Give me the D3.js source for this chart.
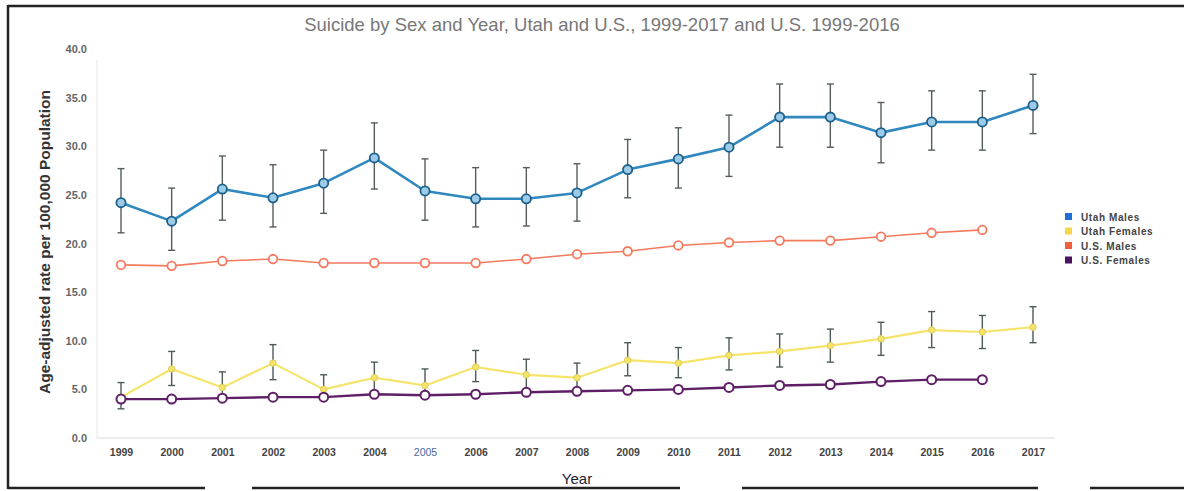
<!DOCTYPE html>
<html>
<head>
<meta charset="utf-8">
<script src="https://cdn.jsdelivr.net/npm/d3@7"></script>
<style>
  html, body { margin: 0; padding: 0; background: #fff; }
  svg { display: block; font-family: "Liberation Sans", Arial, sans-serif; }
</style>
</head>
<body>
<svg id="chart" width="1184" height="491"></svg>
<script>
// Years on the x axis
const years = [1999, 2000, 2001, 2002, 2003, 2004, 2005, 2006, 2007, 2008,
               2009, 2010, 2011, 2012, 2013, 2014, 2015, 2016, 2017];

// Age-adjusted suicide rates per 100,000
const utahMales      = [24.2, 22.3, 25.6, 24.7, 26.2, 28.8, 25.4, 24.6, 24.6, 25.2, 27.6, 28.7, 29.9, 33.0, 33.0, 31.4, 32.5, 32.5, 34.2];
const utahMalesLow   = [21.1, 19.3, 22.4, 21.7, 23.1, 25.6, 22.4, 21.7, 21.8, 22.3, 24.7, 25.7, 26.9, 29.9, 29.9, 28.3, 29.6, 29.6, 31.3];
const utahMalesHigh  = [27.7, 25.7, 29.0, 28.1, 29.6, 32.4, 28.7, 27.8, 27.8, 28.2, 30.7, 31.9, 33.2, 36.4, 36.4, 34.5, 35.7, 35.7, 37.4];

const utahFemales     = [4.2, 7.1, 5.2, 7.7, 5.0, 6.2, 5.4, 7.3, 6.5, 6.2, 8.0, 7.7, 8.5, 8.9, 9.5, 10.2, 11.1, 10.9, 11.4];
const utahFemalesLow  = [3.0, 5.4, 4.0, 6.0, 4.0, 4.6, 4.2, 5.8, 4.9, 4.7, 6.4, 6.2, 7.0, 7.3, 7.8, 8.5, 9.3, 9.2, 9.8];
const utahFemalesHigh = [5.7, 8.9, 6.8, 9.6, 6.5, 7.8, 7.1, 9.0, 8.1, 7.7, 9.8, 9.3, 10.3, 10.7, 11.2, 11.9, 13.0, 12.6, 13.5];

const usMales   = [17.8, 17.7, 18.2, 18.4, 18.0, 18.0, 18.0, 18.0, 18.4, 18.9, 19.2, 19.8, 20.1, 20.3, 20.3, 20.7, 21.1, 21.4];
const usFemales = [4.0, 4.0, 4.1, 4.2, 4.2, 4.5, 4.4, 4.5, 4.7, 4.8, 4.9, 5.0, 5.2, 5.4, 5.5, 5.8, 6.0, 6.0];

const yTicks = [0, 5, 10, 15, 20, 25, 30, 35, 40];
const legendLabels = ["Utah Males", "Utah Females", "U.S. Males", "U.S. Females"];
const legendColors = ["#1f6fd0", "#f7d84a", "#f0603c", "#4b1260"];

const svg = d3.select("#chart");

// Scanned page frame
const frame = svg.append("g").attr("stroke", "#222").attr("stroke-width", 2.5);
frame.append("line").attr("x1", 8).attr("y1", 5).attr("x2", 8).attr("y2", 489);
frame.append("line").attr("x1", 8).attr("y1", 6).attr("x2", 1184).attr("y2", 6);
frame.append("line").attr("x1", 8).attr("y1", 488).attr("x2", 205).attr("y2", 488);
frame.append("line").attr("x1", 252).attr("y1", 488).attr("x2", 680).attr("y2", 488);
frame.append("line").attr("x1", 742).attr("y1", 488).attr("x2", 1038).attr("y2", 488);
frame.append("line").attr("x1", 1090).attr("y1", 488).attr("x2", 1184).attr("y2", 488);

const x = d3.scalePoint().domain(years).range([121, 1033]);
const y = d3.scaleLinear().domain([0, 40]).range([438, 49]);

// Title
svg.append("text")
  .attr("x", 602).attr("y", 31)
  .attr("text-anchor", "middle")
  .attr("font-size", 18.5)
  .attr("fill", "#777")
  .text("Suicide by Sex and Year, Utah and U.S., 1999-2017 and U.S. 1999-2016");

// Faint axis lines
svg.append("line").attr("x1", 97).attr("x2", 97).attr("y1", 60).attr("y2", 438)
  .attr("stroke", "#e6e6e6").attr("stroke-width", 1);
svg.append("line").attr("x1", 97).attr("x2", 1055).attr("y1", 438).attr("y2", 438)
  .attr("stroke", "#d8d8d8").attr("stroke-width", 1);

// Y axis
const yAxis = svg.append("g").attr("transform", "translate(87,0)")
  .call(d3.axisLeft(y).tickValues(yTicks).tickFormat(d3.format(".1f")).tickSize(0).tickPadding(0));
yAxis.select(".domain").remove();
yAxis.selectAll("text").attr("font-size", 11).attr("font-weight", "bold").attr("fill", "#666")
  .attr("font-family", "'Liberation Sans', Arial, sans-serif");

// X axis
const xAxis = svg.append("g").attr("transform", "translate(0,447)")
  .call(d3.axisBottom(x).tickSize(0).tickPadding(2));
xAxis.select(".domain").remove();
xAxis.selectAll("text").attr("font-size", 10.5)
  .attr("font-family", "'Liberation Sans', Arial, sans-serif")
  .attr("fill", d => d === 2005 ? "#4a6aa0" : "#444")
  .attr("font-weight", d => d === 2005 ? "normal" : "bold");

// Axis titles
svg.append("text")
  .attr("transform", "translate(50,242) rotate(-90)")
  .attr("text-anchor", "middle")
  .attr("font-size", 15.5)
  .attr("font-weight", "bold")
  .attr("fill", "#333")
  .text("Age-adjusted rate per 100,000 Population");

svg.append("text")
  .attr("x", 577).attr("y", 484)
  .attr("text-anchor", "middle")
  .attr("font-size", 15)
  .attr("fill", "#223")
  .text("Year");

const line = d3.line().x(d => x(d[0])).y(d => y(d[1]));
const pairs = arr => arr.map((v, i) => [years[i], v]);

function errorBars(vals, lo, hi, color) {
  const g = svg.append("g").attr("stroke", color).attr("stroke-width", 1.4);
  vals.forEach((v, i) => {
    const cx = x(years[i]);
    g.append("line").attr("x1", cx).attr("x2", cx).attr("y1", y(lo[i])).attr("y2", y(hi[i]));
    g.append("line").attr("x1", cx - 3.5).attr("x2", cx + 3.5).attr("y1", y(lo[i])).attr("y2", y(lo[i]));
    g.append("line").attr("x1", cx - 3.5).attr("x2", cx + 3.5).attr("y1", y(hi[i])).attr("y2", y(hi[i]));
  });
}

function series(vals, color, width, marker) {
  svg.append("path").datum(pairs(vals))
    .attr("fill", "none").attr("stroke", color).attr("stroke-width", width)
    .attr("stroke-linejoin", "round").attr("d", line);
  svg.append("g").selectAll("circle").data(pairs(vals)).join("circle")
    .attr("cx", d => x(d[0])).attr("cy", d => y(d[1]))
    .attr("r", marker.r).attr("fill", marker.fill)
    .attr("stroke", marker.stroke).attr("stroke-width", marker.sw);
}

// U.S. Males
series(usMales, "#f47a5e", 1.6, { r: 4.3, fill: "#fff", stroke: "#f47a5e", sw: 1.8 });

// Utah Females
errorBars(utahFemales, utahFemalesLow, utahFemalesHigh, "#4d5a58");
series(utahFemales, "#f6e46a", 2.2, { r: 3.2, fill: "#f6e46a", stroke: "#dccd5a", sw: 1 });

// U.S. Females
series(usFemales, "#5e1f66", 2.4, { r: 4.5, fill: "#fff", stroke: "#5e1f66", sw: 2 });

// Utah Males
errorBars(utahMales, utahMalesLow, utahMalesHigh, "#555d5c");
series(utahMales, "#3088bf", 2.6, { r: 4.6, fill: "#9ccbe8", stroke: "#1d5f8a", sw: 1.8 });

// Legend
const legend = svg.append("g").attr("transform", "translate(1065,217)");
legendLabels.forEach((lab, i) => {
  const g = legend.append("g").attr("transform", `translate(0,${i * 14.5})`);
  g.append("rect").attr("x", 0).attr("y", -4).attr("width", 7).attr("height", 7).attr("fill", legendColors[i]);
  g.append("text").attr("x", 16).attr("y", 3.5).attr("font-size", 10)
    .attr("font-weight", "bold").attr("letter-spacing", 0.6).attr("fill", "#444").text(lab);
});
</script>
</body>
</html>
